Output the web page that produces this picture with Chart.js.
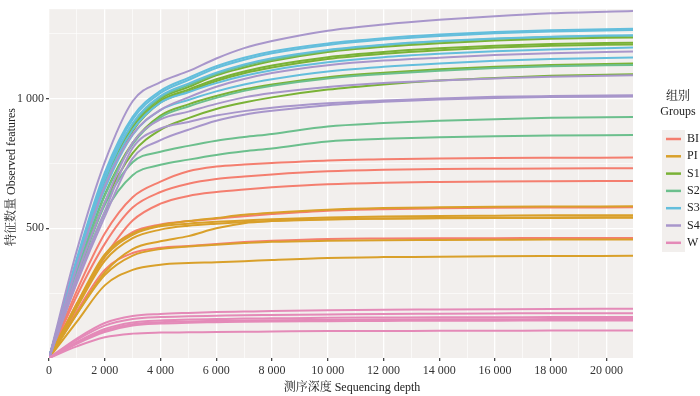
<!DOCTYPE html>
<html><head><meta charset="utf-8">
<script src="https://cdn.jsdelivr.net/npm/chart.js@4.4.0/dist/chart.umd.min.js"></script>
<style>html,body{margin:0;padding:0;background:#fff;}#wrap{width:700px;height:396px;}</style>
</head><body><div id="wrap"><canvas id="c" width="700" height="396"></canvas></div>
<script>
// ---- data ----
const depths = [0, 1000, 2000, 3000, 4000, 5000, 6000, 7000, 8000, 10000, 12000, 14000, 16000, 18000, 20950];
const groupNames = ['BI', 'PI', 'S1', 'S2', 'S3', 'S4', 'W'];
const xGridValues = [0, 1000, 2000, 3000, 4000, 5000, 6000, 7000, 8000, 9000, 10000, 11000, 12000, 13000, 14000, 15000, 16000, 17000, 18000, 19000, 20000];
const xTickValues = [0, 2000, 4000, 6000, 8000, 10000, 12000, 14000, 16000, 18000, 20000];
const xTickLabels = ['0', '2 000', '4 000', '6 000', '8 000', '10 000', '12 000', '14 000', '16 000', '18 000', '20 000'];
const yGridValues = [0, 250, 500, 750, 1000, 1250];
const yTickValues = [500, 1000];
const yTickLabels = ['500', '1 000'];

const BI = [
  [0, 260, 480, 620, 680, 720, 738, 746, 752, 762, 766, 769, 771, 772, 773],
  [0, 240, 440, 580, 640, 672, 690, 700, 708, 720, 726, 729, 730, 731, 732],
  [0, 210, 390, 530, 595, 625, 640, 650, 658, 670, 676, 679, 681, 682, 683],
  [0, 200, 395, 485, 515, 528, 537, 547, 555, 568, 574, 577, 579, 580, 581],
  [0, 180, 340, 405, 425, 432, 440, 447, 452, 459, 461, 462, 462, 463, 463]
];
const PI = [
  [0, 210, 400, 480, 512, 528, 540, 552, 560, 572, 578, 581, 583, 584, 585],
  [0, 205, 390, 475, 508, 518, 525, 530, 535, 542, 546, 548, 549, 550, 550],
  [0, 170, 330, 420, 450, 470, 500, 520, 528, 535, 538, 540, 541, 542, 543],
  [0, 170, 320, 395, 420, 430, 437, 443, 448, 452, 454, 455, 456, 457, 457],
  [0, 140, 280, 340, 360, 366, 369, 373, 378, 386, 389, 390, 392, 393, 394],
  [0, 195, 375, 462, 495, 510, 518, 524, 528, 534, 537, 539, 540, 540, 541]
];
const S1 = [
  [0, 360, 680, 890, 1000, 1045, 1090, 1120, 1145, 1180, 1200, 1214, 1224, 1231, 1236],
  [0, 355, 670, 880, 992, 1035, 1075, 1105, 1128, 1160, 1180, 1194, 1204, 1211, 1216],
  [0, 350, 665, 875, 985, 1028, 1068, 1098, 1120, 1153, 1173, 1187, 1197, 1204, 1209],
  [0, 335, 630, 830, 935, 978, 1010, 1036, 1055, 1083, 1100, 1113, 1123, 1130, 1136],
  [0, 320, 600, 790, 880, 925, 960, 985, 1005, 1035, 1055, 1070, 1080, 1088, 1094]
];
const S2 = [
  [0, 365, 690, 900, 1005, 1052, 1095, 1127, 1150, 1185, 1206, 1220, 1230, 1238, 1243],
  [0, 330, 625, 825, 928, 970, 1003, 1030, 1050, 1078, 1095, 1108, 1118, 1125, 1130],
  [0, 310, 590, 755, 795, 818, 838, 852, 864, 893, 906, 915, 921, 926, 929],
  [0, 295, 560, 705, 745, 765, 783, 797, 808, 835, 845, 851, 855, 858, 860]
];
const S3 = [
  [0, 385, 715, 930, 1030, 1080, 1125, 1158, 1182, 1213, 1233, 1247, 1257, 1264, 1270],
  [0, 375, 700, 920, 1022, 1072, 1118, 1150, 1175, 1207, 1228, 1242, 1252, 1259, 1265],
  [0, 370, 690, 905, 1010, 1058, 1100, 1132, 1156, 1188, 1208, 1222, 1232, 1239, 1245],
  [0, 360, 670, 880, 985, 1025, 1060, 1088, 1110, 1140, 1160, 1173, 1183, 1190, 1197],
  [0, 350, 650, 860, 956, 995, 1028, 1055, 1075, 1105, 1123, 1136, 1146, 1153, 1159]
];
const S4 = [
  [0, 415, 755, 990, 1064, 1106, 1155, 1195, 1222, 1262, 1286, 1304, 1318, 1329, 1338],
  [0, 355, 662, 863, 957, 1005, 1046, 1076, 1099, 1129, 1147, 1158, 1168, 1175, 1182],
  [0, 320, 600, 830, 920, 950, 980, 1005, 1022, 1045, 1060, 1070, 1078, 1085, 1090],
  [0, 300, 565, 810, 885, 910, 935, 952, 965, 982, 993, 1001, 1007, 1010, 1013],
  [0, 290, 545, 770, 840, 880, 915, 938, 953, 975, 988, 997, 1003, 1006, 1008]
];
const W = [
  [0, 75, 135, 162, 170, 174, 177, 179, 181, 184, 186, 187, 188, 189, 190],
  [0, 70, 125, 150, 158, 161, 163, 165, 166, 168, 170, 171, 172, 173, 173],
  [0, 62, 112, 137, 145, 148, 150, 152, 153, 155, 156, 157, 157, 158, 158],
  [0, 58, 105, 130, 138, 141, 143, 145, 146, 147, 148, 149, 149, 150, 150],
  [0, 55, 100, 125, 133, 136, 138, 140, 141, 142, 143, 144, 144, 145, 145],
  [0, 45, 80, 94, 98, 99, 100, 101, 102, 104, 104, 105, 105, 106, 106]
];
const groupSeries = [BI, PI, S1, S2, S3, S4, W];

// ---- styles ----
const groupColors = ['#F47E6F', '#D9A02A', '#7AB236', '#6CBF8D', '#64BEDC', '#A896CB', '#E48AB8'];
const PANEL = '#F2EFED';
const SERIF = "'Liberation Serif', 'Times New Roman', 'Noto Serif CJK SC', 'Noto Sans CJK SC', serif";

const datasets = [];
groupSeries.forEach((g, gi) => {
  g.forEach((s, si) => {
    datasets.push({
      label: groupNames[gi] + '_' + (si + 1),
      data: depths.map((d, i) => ({ x: d, y: s[i] })),
      borderColor: groupColors[gi],
      borderWidth: 2,
      pointRadius: 0,
      fill: false,
      cubicInterpolationMode: 'monotone'
    });
  });
});
datasets.reverse(); // first dataset is drawn on top in Chart.js

const panelBg = {
  id: 'panelBg',
  beforeDraw(chart) {
    const { ctx, chartArea: a } = chart;
    ctx.save();
    ctx.fillStyle = PANEL;
    ctx.fillRect(a.left, a.top, a.right - a.left, a.bottom - a.top);
    ctx.restore();
  }
};

const decorations = {
  id: 'decorations',
  afterDraw(chart) {
    const { ctx } = chart;
    ctx.save();
    ctx.fillStyle = '#222';
    ctx.font = '12px ' + SERIF;
    ctx.textAlign = 'center';
    ctx.textBaseline = 'middle';
    ctx.fillText('测序深度 Sequencing depth', 352, 388);
    ctx.save();
    ctx.translate(12, 177);
    ctx.rotate(-Math.PI / 2);
    ctx.fillText('特征数量 Observed features', 0, 0);
    ctx.restore();
    // legend
    ctx.fillText('组别', 678, 97);
    ctx.fillText('Groups', 678, 112);
    ctx.fillStyle = PANEL;
    ctx.fillRect(662, 130, 23, 122);
    groupNames.forEach((n, i) => {
      const y = 139 + 17.3 * i;
      ctx.strokeStyle = groupColors[i];
      ctx.lineWidth = 2.5;
      ctx.beginPath();
      ctx.moveTo(666, y);
      ctx.lineTo(681, y);
      ctx.stroke();
      ctx.fillStyle = '#222';
      ctx.textAlign = 'left';
      ctx.fillText(n, 687, y);
    });
    ctx.restore();
  }
};

new Chart(document.getElementById('c'), {
  type: 'line',
  data: { datasets },
  plugins: [panelBg, decorations],
  options: {
    responsive: false,
    devicePixelRatio: 1,
    animation: false,
    events: [],
    layout: { padding: { left: 0, right: 67, top: 3, bottom: 0 } },
    plugins: { legend: { display: false }, tooltip: { enabled: false } },
    scales: {
      x: {
        type: 'linear',
        min: 0,
        max: 20950,
        afterBuildTicks(scale) { scale.ticks = xGridValues.map((v) => ({ value: v })); },
        afterFit(scale) { scale.height = 38; },
        border: { display: false },
        grid: {
          color: '#FFFFFF',
          lineWidth: (c) => (c.tick && xTickValues.includes(c.tick.value) ? 1.3 : 0.6),
          tickColor: (c) => (c.tick && xTickValues.includes(c.tick.value) ? '#444' : 'rgba(0,0,0,0)'),
          tickLength: 3,
          drawTicks: true
        },
        ticks: {
          autoSkip: false,
          maxRotation: 0,
          minRotation: 0,
          padding: 3,
          color: '#333',
          font: { family: SERIF, size: 12 },
          callback: (v) => { const i = xTickValues.indexOf(v); return i >= 0 ? xTickLabels[i] : ''; }
        }
      },
      y: {
        type: 'linear',
        min: 0,
        max: 1345,
        afterBuildTicks(scale) { scale.ticks = yGridValues.map((v) => ({ value: v })); },
        afterFit(scale) { scale.width = 49; },
        border: { display: false },
        grid: {
          color: (c) => (c.tick && c.tick.value === 0 ? 'rgba(0,0,0,0)' : '#FFFFFF'),
          lineWidth: (c) => (c.tick && yTickValues.includes(c.tick.value) ? 1.3 : 0.6),
          tickColor: (c) => (c.tick && yTickValues.includes(c.tick.value) ? '#444' : 'rgba(0,0,0,0)'),
          tickLength: 3,
          drawTicks: true
        },
        ticks: {
          autoSkip: false,
          padding: 2,
          color: '#333',
          font: { family: SERIF, size: 12 },
          callback: (v) => { const i = yTickValues.indexOf(v); return i >= 0 ? yTickLabels[i] : ''; }
        }
      }
    }
  }
});
</script></body></html>
